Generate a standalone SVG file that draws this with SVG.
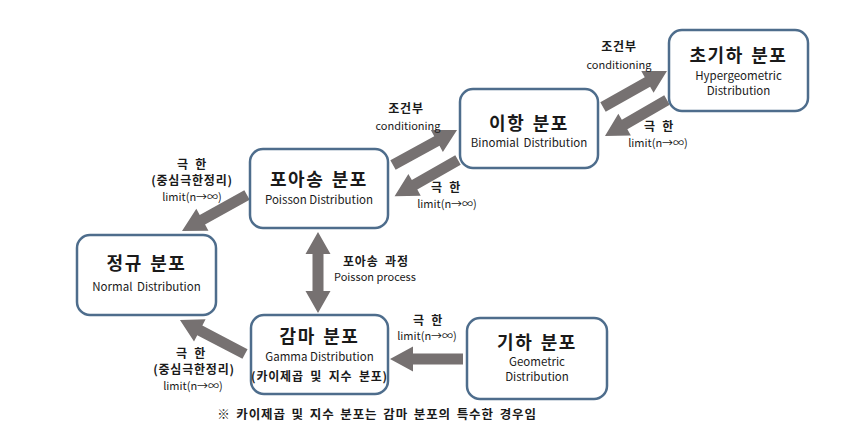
<svg xmlns="http://www.w3.org/2000/svg" width="851" height="442" viewBox="0 0 851 442">
<style>
.box{fill:#fff;stroke:#4e6d8c;stroke-width:2.5}
.arr{fill:#767171}
text{font-family:"Noto Sans CJK KR","Liberation Sans",sans-serif;fill:#1a1a1a;text-anchor:middle}
.t{font-size:18px;font-weight:bold;letter-spacing:1.5px;word-spacing:2px}
.s{font-size:11.5px}
.lk{font-size:12px;font-weight:bold;letter-spacing:0.8px;word-spacing:3px}
.le{font-size:11px}
.nt{font-size:12.5px;font-weight:bold;letter-spacing:0.9px;word-spacing:2px}
</style>
<rect width="851" height="442" fill="#fff"/>
<g id="connectors">
<polygon class="arr" points="0,-5.5 50,-5.5 50,-12.5 73,0 50,12.5 50,5.5 0,5.5" transform="translate(393,165) rotate(-28.7)"/>
<polygon class="arr" points="0,-5.5 50,-5.5 50,-12.5 73,0 50,12.5 50,5.5 0,5.5" transform="translate(458,160) rotate(150.3)"/>
<polygon class="arr" points="0,-5.5 51,-5.5 51,-12.5 73.4,0 51,12.5 51,5.5 0,5.5" transform="translate(603,107) rotate(-29.4)"/>
<polygon class="arr" points="0,-5.5 49,-5.5 49,-12.5 71.7,0 49,12.5 49,5.5 0,5.5" transform="translate(667,100) rotate(149.9)"/>
<polygon class="arr" points="0,-5.5 51,-5.5 51,-12.5 74.3,0 51,12.5 51,5.5 0,5.5" transform="translate(247,195) rotate(151)"/>
<polygon class="arr" points="0,-5.5 51,-5.5 51,-12.5 73.4,0 51,12.5 51,5.5 0,5.5" transform="translate(245,354) rotate(207.6)"/>
<polygon class="arr" points="0,-5.5 50,-5.5 50,-12.5 73,0 50,12.5 50,5.5 0,5.5" transform="translate(463,359) rotate(180)"/>
<polygon class="arr" points="0,0 22,-12.5 22,-5.5 59,-5.5 59,-12.5 81,0 59,12.5 59,5.5 22,5.5 22,12.5" transform="translate(318,232) rotate(90)"/>
<text class="lk" x="406" y="113">조건부</text>
<text class="le" x="408" y="130">conditioning</text>
<text class="lk" x="619" y="51">조건부</text>
<text class="le" x="619" y="69">conditioning</text>
<text class="lk" x="446" y="192">극 한</text>
<text class="le" x="447" y="208">limit(n→∞)</text>
<text class="lk" x="659" y="131">극 한</text>
<text class="le" x="658" y="147">limit(n→∞)</text>
<text class="lk" x="192" y="169">극 한</text>
<text class="lk" x="192" y="185">(중심극한정리)</text>
<text class="le" x="192" y="201">limit(n→∞)</text>
<text class="lk" x="343" y="266" style="text-anchor:start">포아송 과정</text>
<text class="le" x="334" y="281" style="text-anchor:start">Poisson process</text>
<text class="lk" x="191" y="358">극 한</text>
<text class="lk" x="194" y="374">(중심극한정리)</text>
<text class="le" x="193" y="390">limit(n→∞)</text>
<text class="lk" x="428" y="325">극 한</text>
<text class="le" x="427" y="340">limit(n→∞)</text>
</g>
<g id="hypergeometric">
<rect class="box" x="669" y="30" width="139" height="81" rx="13"/>
<text class="t" x="738.5" y="62">초기하 분포</text>
<text class="s" x="738.5" y="80">Hypergeometric</text>
<text class="s" x="738.5" y="95">Distribution</text>
</g>
<g id="binomial">
<rect class="box" x="460" y="89" width="138" height="79" rx="13"/>
<text class="t" x="529" y="130">이항 분포</text>
<text class="s" x="529" y="147" style="word-spacing:2px">Binomial Distribution</text>
</g>
<g id="poisson">
<rect class="box" x="250" y="149" width="138" height="79" rx="13"/>
<text class="t" x="319" y="186">포아송 분포</text>
<text class="s" x="319" y="204">Poisson Distribution</text>
</g>
<g id="normal">
<rect class="box" x="77" y="235" width="139" height="80" rx="13"/>
<text class="t" x="146.5" y="270">정규 분포</text>
<text class="s" x="146.5" y="291" style="word-spacing:2px">Normal Distribution</text>
</g>
<g id="gamma">
<rect class="box" x="251" y="315" width="137" height="79" rx="13"/>
<text class="t" x="319.5" y="343">감마 분포</text>
<text class="s" x="319.5" y="361">Gamma Distribution</text>
<text class="lk" x="319.5" y="381">(카이제곱 및 지수 분포)</text>
</g>
<g id="geometric">
<rect class="box" x="467" y="318" width="140" height="81" rx="13"/>
<text class="t" x="537" y="349">기하 분포</text>
<text class="s" x="537" y="366">Geometric</text>
<text class="s" x="537" y="381">Distribution</text>
</g>
<g id="note">
<text class="nt" x="377" y="419">※ 카이제곱 및 지수 분포는 감마 분포의 특수한 경우임</text>
</g>
</svg>
